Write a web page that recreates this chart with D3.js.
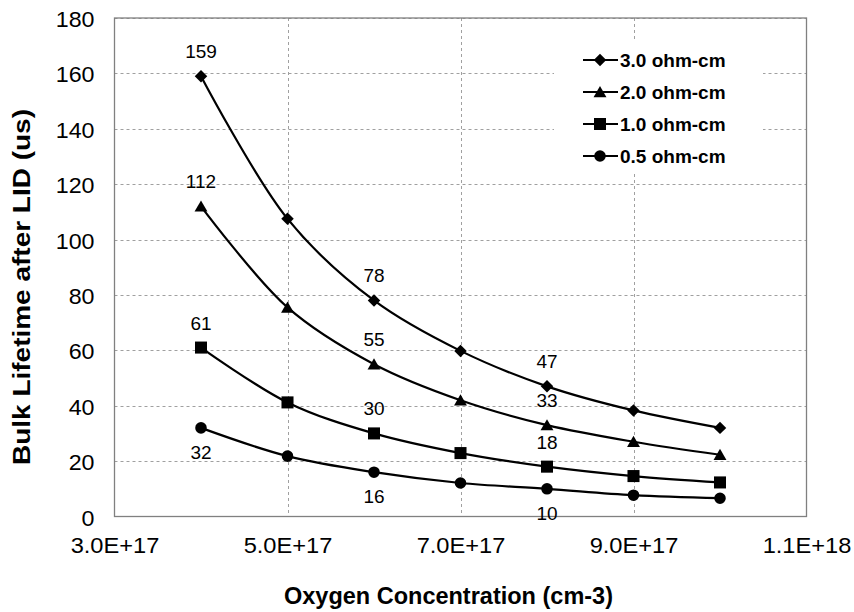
<!DOCTYPE html>
<html>
<head>
<meta charset="utf-8">
<script src="https://cdn.jsdelivr.net/npm/d3@7"></script>
<style>
  html, body { margin: 0; padding: 0; background: #fff; }
  svg { display: block; font-family: "Liberation Sans", Arial, sans-serif; }
</style>
</head>
<body>
<svg id="chart" width="854" height="612"></svg>
<script>
// Oxygen concentration (cm-3) for each measurement
const oxygen = [4e17, 5e17, 6e17, 7e17, 8e17, 9e17, 1e18];

// Bulk lifetime after LID (us) per resistivity
const life30 = [159, 107.5, 78, 59.8, 47, 38.3, 32];
const life20 = [112, 75.5, 55, 42, 33, 27, 22.3];
const life10 = [61, 41.2, 30, 22.9, 18, 14.6, 12.3];
const life05 = [32, 21.8, 16, 12.1, 10, 7.7, 6.6];

const seriesNames = ["3.0 ohm-cm", "2.0 ohm-cm", "1.0 ohm-cm", "0.5 ohm-cm"];
const seriesValues = [life30, life20, life10, life05];
const seriesSymbols = [d3.symbolSquare, d3.symbolTriangle, d3.symbolSquare, d3.symbolCircle];
const symbolSizes = [78, 72, 145, 105];
const symbolRotate = [45, 0, 0, 0];

// Value labels: which points are annotated and whether above or below
const labelIndex = [0, 2, 4];
const labelBelow = [false, false, false, true];

const xTicks = [3e17, 5e17, 7e17, 9e17, 1.1e18];
const xTickLabels = ["3.0E+17", "5.0E+17", "7.0E+17", "9.0E+17", "1.1E+18"];
const yTicks = [0, 20, 40, 60, 80, 100, 120, 140, 160, 180];

const svg = d3.select("#chart");
const plotL = 114.5, plotR = 806.5, plotT = 18, plotB = 516.5;

const x = d3.scaleLinear().domain([3e17, 1.1e18]).range([plotL, plotR]);
const y = d3.scaleLinear().domain([0, 180]).range([plotB, plotT]);

// Widen text horizontally by a factor, keeping its glyph height
function widen(sel, factor) {
  sel.each(function () {
    const len = this.getComputedTextLength();
    d3.select(this).attr("textLength", len * factor).attr("lengthAdjust", "spacingAndGlyphs");
  });
}

// Grid lines
const grid = svg.append("g").attr("stroke", "#a0a0a0").attr("stroke-width", 1)
  .attr("stroke-dasharray", "3,3");
yTicks.slice(1).forEach(t => {
  grid.append("line").attr("x1", plotL).attr("x2", plotR)
    .attr("y1", Math.round(y(t)) + 0.5).attr("y2", Math.round(y(t)) + 0.5);
});
xTicks.slice(1, -1).forEach(t => {
  grid.append("line").attr("y1", plotT).attr("y2", plotB)
    .attr("x1", Math.round(x(t)) + 0.5).attr("x2", Math.round(x(t)) + 0.5);
});

// Plot frame
svg.append("rect").attr("x", plotL).attr("y", plotT)
  .attr("width", plotR - plotL).attr("height", plotB - plotT)
  .attr("fill", "none").attr("stroke", "#808080").attr("stroke-width", 1.3);

// Axes (labels only, the frame is drawn above)
const yAxis = d3.axisLeft(y).tickValues(yTicks).tickSize(0).tickPadding(20);
const yLabels = svg.append("g").attr("transform", `translate(${plotL},0)`).call(yAxis)
  .call(g => g.select(".domain").remove())
  .selectAll("text").attr("font-size", 21.5).attr("fill", "#000").attr("dy", "0.4em")
  .attr("font-family", "Liberation Sans, Arial, sans-serif");
widen(yLabels, 1.08);

const xAxis = d3.axisBottom(x).tickValues(xTicks)
  .tickFormat((d, i) => xTickLabels[i]).tickSize(0);
const xLabels = svg.append("g").attr("transform", `translate(0,${plotB})`).call(xAxis)
  .call(g => g.select(".domain").remove())
  .selectAll("text").attr("font-size", 21.5).attr("fill", "#000")
  .attr("y", 36).attr("dy", 0)
  .attr("font-family", "Liberation Sans, Arial, sans-serif");
widen(xLabels, 1.1);

// Axis titles
svg.append("text").attr("x", 448.5).attr("y", 604)
  .attr("text-anchor", "middle").attr("font-size", 23).attr("font-weight", "bold")
  .attr("textLength", 329).attr("lengthAdjust", "spacingAndGlyphs")
  .text("Oxygen Concentration (cm-3)");
svg.append("text")
  .attr("transform", `translate(29.5,287) rotate(-90)`)
  .attr("text-anchor", "middle").attr("font-size", 23).attr("font-weight", "bold")
  .attr("textLength", 356).attr("lengthAdjust", "spacingAndGlyphs")
  .text("Bulk Lifetime after LID (us)");

// Legend (white box hides grid behind it)
const legX = 583, legY0 = 60, legDy = 32;
svg.append("rect").attr("x", 554).attr("y", 42).attr("width", 209).attr("height", 131)
  .attr("fill", "#fff");

// Series
const line = d3.line().x((d, i) => x(oxygen[i])).y(d => y(d))
  .curve(d3.curveCatmullRom.alpha(0.5));

seriesValues.forEach((vals, s) => {
  svg.append("path").datum(vals).attr("d", line)
    .attr("fill", "none").attr("stroke", "#000").attr("stroke-width", 2.2);
  const sym = d3.symbol().type(seriesSymbols[s]).size(symbolSizes[s]);
  const dy = seriesSymbols[s] === d3.symbolTriangle ? 1.5 : 0;
  svg.append("g").selectAll("path").data(vals).join("path")
    .attr("d", sym)
    .attr("transform", (d, i) =>
      `translate(${x(oxygen[i])},${y(d) + dy}) rotate(${symbolRotate[s]})`)
    .attr("fill", "#000");
  // value labels
  svg.append("g").selectAll("text").data(labelIndex).join("text")
    .attr("x", i => x(oxygen[i]))
    .attr("y", i => y(vals[i]) + (labelBelow[s] ? 31 : -18))
    .attr("text-anchor", "middle").attr("font-size", 19).attr("fill", "#000")
    .text(i => d3.format("d")(vals[i]));

  // legend entry
  const ly = legY0 + s * legDy;
  svg.append("line").attr("x1", legX).attr("x2", legX + 35).attr("y1", ly).attr("y2", ly)
    .attr("stroke", "#000").attr("stroke-width", 2.2);
  svg.append("path").attr("d", sym)
    .attr("transform", `translate(${legX + 17},${ly + dy}) rotate(${symbolRotate[s]})`)
    .attr("fill", "#000");
  svg.append("text").attr("x", legX + 37).attr("y", ly + 6.7)
    .attr("font-size", 19).attr("font-weight", "bold").text(seriesNames[s]);
});
</script>
</body>
</html>
